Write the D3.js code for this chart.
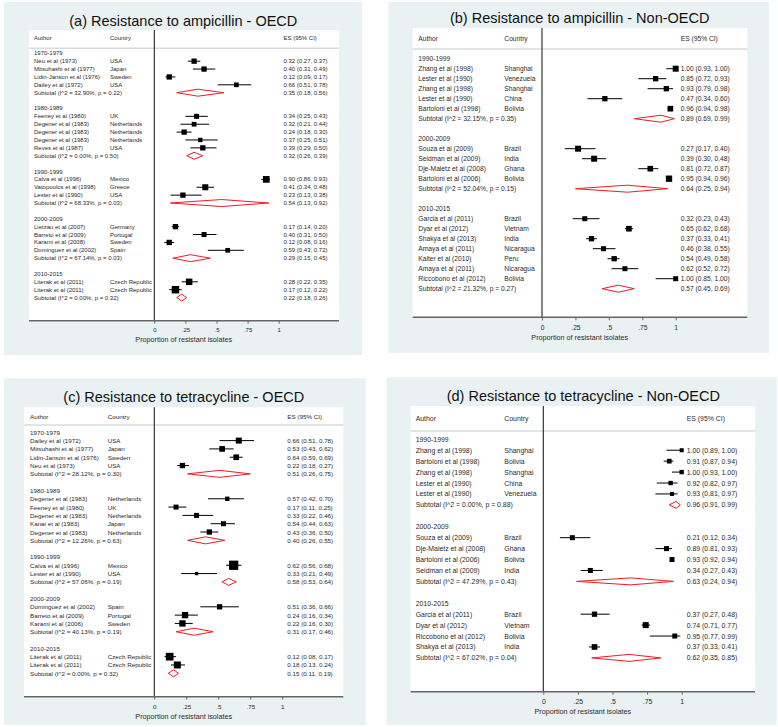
<!DOCTYPE html>
<html><head><meta charset="utf-8">
<script src="https://cdn.jsdelivr.net/npm/d3@7"></script>
<style>
body{margin:0;background:#fff}
svg{display:block}
text{font-family:"Liberation Sans",Arial,Helvetica,sans-serif}
</style>
</head><body>
<svg id="chart" width="778" height="727"></svg>
<script>
// ---------------- DATA ----------------
const xTicks = [0, 0.25, 0.5, 0.75, 1];
const xTickLabels = ["0", ".25", ".5", ".75", "1"];
const axisTitle = "Proportion of resistant isolates";
const headAuthor = "Author", headCountry = "Country", headES = "ES (95% CI)";

// (a) ampicillin OECD
const aTitle = "(a) Resistance to ampicillin - OECD";
const aGroups = ["1970-1979", "1980-1989", "1990-1999", "2000-2009", "2010-2015"];
const aGroupOf = [0,0,0,0, 1,1,1,1,1, 2,2,2, 3,3,3,3, 4,4];
const aAuthors = ["Neu et al (1973)","Mitsuhashi et al (1977)","Lidin-Janson et al (1976)","Dailey et al (1972)",
  "Feeney et al (1980)","Degener et al (1983)","Degener et al (1983)","Degener et al (1983)","Reves et al (1987)",
  "Calva et al (1996)","Vatopoulos et al (1998)","Lester et al (1990)",
  "Lietzau et al (2007)","Barreto et al (2009)","Karami et al (2008)","Dominguez et al (2002)",
  "Literak et al (2011)","Literak et al (2011)"];
const aCountries = ["USA","Japan","Sweden","USA","UK","Netherlands","Netherlands","Netherlands","USA",
  "Mexico","Greece","USA","Germany","Portugal","Sweden","Spain","Czech Republic","Czech Republic"];
const aES = [0.32,0.40,0.12,0.66, 0.34,0.32,0.24,0.37,0.39, 0.90,0.41,0.23, 0.17,0.40,0.12,0.59, 0.28,0.17];
const aLo = [0.27,0.31,0.09,0.51, 0.25,0.21,0.18,0.25,0.29, 0.86,0.34,0.13, 0.14,0.31,0.08,0.43, 0.22,0.12];
const aHi = [0.37,0.49,0.17,0.78, 0.43,0.44,0.30,0.51,0.50, 0.93,0.48,0.38, 0.20,0.50,0.16,0.72, 0.35,0.22];
const aWeight = [28,28,28,22, 25,22,28,19,28, 45,36,28, 28,25,28,22, 42,56];
const aSubES = [0.35,0.32,0.54,0.29,0.22];
const aSubLo = [0.18,0.26,0.13,0.15,0.18];
const aSubHi = [0.56,0.39,0.92,0.45,0.26];
const aSubI2 = ["32.90","0.00","68.33","67.14","0.00"];
const aSubP = ["0.22","0.50","0.03","0.03","0.32"];

// (b) ampicillin Non-OECD
const bTitle = "(b) Resistance to ampicillin - Non-OECD";
const bGroups = ["1990-1999", "2000-2009", "2010-2015"];
const bGroupOf = [0,0,0,0,0, 1,1,1,1, 2,2,2,2,2,2,2];
const bAuthors = ["Zhang et al (1998)","Lester et al (1990)","Zhang et al (1998)","Lester et al (1990)","Bartoloni et al (1998)",
  "Souza et al (2009)","Seidman et al (2009)","Dje-Maletz et al (2008)","Bartoloni et al (2006)",
  "Garcia et al (2011)","Dyar et al (2012)","Shakya et al (2013)","Amaya et al (2011)","Kalter et al (2010)","Amaya et al (2011)","Riccobono et al (2012)"];
const bCountries = ["Shanghai","Venezuela","Shanghai","China","Bolivia","Brazil","India","Ghana","Bolivia",
  "Brazil","Vietnam","India","Nicaragua","Peru","Nicaragua","Bolivia"];
const bES = [1.00,0.85,0.93,0.47,0.96, 0.27,0.39,0.81,0.95, 0.32,0.65,0.37,0.46,0.54,0.62,1.00];
const bLo = [0.93,0.72,0.79,0.34,0.94, 0.17,0.30,0.72,0.94, 0.23,0.62,0.33,0.38,0.49,0.52,0.85];
const bHi = [1.00,0.93,0.98,0.60,0.98, 0.40,0.48,0.87,0.96, 0.43,0.68,0.41,0.55,0.58,0.72,1.00];
const bWeight = [36,28,28,28,32, 36,36,32,40, 25,32,28,25,28,25,25];
const bSubES = [0.89,0.64,0.57];
const bSubLo = [0.69,0.25,0.45];
const bSubHi = [0.99,0.94,0.69];
const bSubI2 = ["32.15","52.04","21.32"];
const bSubP = ["0.35","0.15","0.27"];

// (c) tetracycline OECD
const cTitle = "(c) Resistance to tetracycline - OECD";
const cGroups = ["1970-1979", "1980-1989", "1990-1999", "2000-2009", "2010-2015"];
const cGroupOf = [0,0,0,0, 1,1,1,1,1, 2,2, 3,3,3, 4,4];
const cAuthors = ["Dailey et al (1972)","Mitsuhashi et al (1977)","Lidin-Janson et al (1976)","Neu et al (1973)",
  "Degener et al (1983)","Feeney et al (1980)","Degener et al (1983)","Kanai et al (1983)","Degener et al (1983)",
  "Calva et al (1996)","Lester et al (1990)",
  "Dominguez et al (2002)","Barreto et al (2009)","Karami et al (2006)",
  "Literak et al (2011)","Literak et al (2011)"];
const cCountries = ["USA","Japan","Sweden","USA","Netherlands","UK","Netherlands","Japan","Netherlands",
  "Mexico","USA","Spain","Portugal","Sweden","Czech Republic","Czech Republic"];
const cES = [0.66,0.53,0.64,0.22, 0.57,0.17,0.33,0.54,0.43, 0.62,0.33, 0.51,0.24,0.22, 0.12,0.18];
const cLo = [0.51,0.43,0.59,0.18, 0.42,0.11,0.22,0.44,0.36, 0.56,0.21, 0.36,0.16,0.16, 0.08,0.13];
const cHi = [0.78,0.62,0.69,0.27, 0.70,0.25,0.46,0.63,0.50, 0.68,0.49, 0.66,0.34,0.30, 0.17,0.24];
const cWeight = [36,32,32,28, 19,25,25,25,28, 86,11, 28,40,40, 59,49];
const cSubES = [0.51,0.40,0.58,0.31,0.15];
const cSubLo = [0.26,0.26,0.53,0.17,0.11];
const cSubHi = [0.75,0.55,0.64,0.46,0.19];
const cSubI2 = ["28.12","12.26","57.06","40.13","0.00"];
const cSubP = ["0.30","0.63","0.19","0.19","0.32"];

// (d) tetracycline Non-OECD
const dTitle = "(d) Resistance to tetracycline - Non-OECD";
const dGroups = ["1990-1999", "2000-2009", "2010-2015"];
const dGroupOf = [0,0,0,0,0, 1,1,1,1, 2,2,2,2];
const dAuthors = ["Zhang et al (1998)","Bartoloni et al (1998)","Zhang et al (1998)","Lester et al (1990)","Lester et al (1990)",
  "Souza et al (2009)","Dje-Maletz et al (2008)","Bartoloni et al (2006)","Seidman et al (2009)",
  "Garcia et al (2011)","Dyar et al (2012)","Riccobono et al (2012)","Shakya et al (2013)"];
const dCountries = ["Shanghai","Bolivia","Shanghai","China","Venezuela","Brazil","Ghana","Bolivia","India",
  "Brazil","Vietnam","Bolivia","India"];
const dES = [1.00,0.91,1.00,0.92,0.93, 0.21,0.89,0.93,0.34, 0.37,0.74,0.95,0.37];
const dLo = [0.89,0.87,0.93,0.82,0.81, 0.12,0.81,0.92,0.27, 0.27,0.71,0.77,0.33];
const dHi = [1.00,0.94,1.00,0.97,0.97, 0.34,0.93,0.94,0.43, 0.48,0.77,0.99,0.41];
const dWeight = [16,22,19,19,16, 25,25,25,25, 28,36,25,32];
const dSubES = [0.96,0.63,0.62];
const dSubLo = [0.91,0.24,0.35];
const dSubHi = [0.99,0.94,0.85];
const dSubI2 = ["0.00","47.29","67.02"];
const dSubP = ["0.88","0.43","0.04"];

// ---------------- LAYOUT ----------------
const panels = [
  { d:{title:aTitle,groups:aGroups,groupOf:aGroupOf,authors:aAuthors,countries:aCountries,es:aES,lo:aLo,hi:aHi,w:aWeight,sEs:aSubES,sLo:aSubLo,sHi:aSubHi,sI2:aSubI2,sP:aSubP},
    L:{bg:[4,2,362,355], titleX:183.3, titleY:26, plot:[29,30,339,320.7], x0:154.3, x1:278.7,
       row0:53.3, rowStep:7.88, authX:34, ctryX:110, esX:283.5, headY:38.3, sepY:48.3, fs:6, axTitleX:183.7, axTitleY:339.5}},
  { d:{title:bTitle,groups:bGroups,groupOf:bGroupOf,authors:bAuthors,countries:bCountries,es:bES,lo:bLo,hi:bHi,w:bWeight,sEs:bSubES,sLo:bSubLo,sHi:bSubHi,sI2:bSubI2,sP:bSubP},
    L:{bg:[388.3,2,769,353], titleX:579.7, titleY:23, plot:[412.7,28,747.3,317.3], x0:542, x1:675.7,
       row0:58.7, rowStep:10, authX:418.3, ctryX:504.3, esX:680.7, headY:38.3, sepY:49, fs:6.7, axTitleX:579.7, axTitleY:337.5}},
  { d:{title:cTitle,groups:cGroups,groupOf:cGroupOf,authors:cAuthors,countries:cCountries,es:cES,lo:cLo,hi:cHi,w:cWeight,sEs:cSubES,sLo:cSubLo,sHi:cSubHi,sI2:cSubI2,sP:cSubP},
    L:{bg:[4,378.3,365.7,725], titleX:183.8, titleY:401.7, plot:[24,407.3,343.3,696.7], x0:154.3, x1:282.3,
       row0:432.3, rowStep:8.31, authX:30, ctryX:107.7, esX:287.3, headY:416, sepY:425, fs:6.25, axTitleX:183.7, axTitleY:716.5}},
  { d:{title:dTitle,groups:dGroups,groupOf:dGroupOf,authors:dAuthors,countries:dCountries,es:dES,lo:dLo,hi:dHi,w:dWeight,sEs:dSubES,sLo:dSubLo,sHi:dSubHi,sI2:dSubI2,sP:dSubP},
    L:{bg:[386.7,377.3,776.7,725], titleX:583.3, titleY:400.7, plot:[410.7,406,755,691.7], x0:543.3, x1:681.7,
       row0:439.3, rowStep:10.93, authX:415.7, ctryX:504.3, esX:686.7, headY:418.3, sepY:431, fs:6.9, axTitleX:582.8, axTitleY:711.2}}
];

const svg = d3.select("#chart");
const f2 = d3.format(".2f");
const sizeScale = d3.scaleSqrt().domain([0, 100]).range([0, 10]);
const TXT = "#2a2a2a";

function drawPanel(P, L) {
  const g = svg.append("g");
  g.append("rect").attr("x", L.bg[0]).attr("y", L.bg[1]).attr("width", L.bg[2]-L.bg[0]).attr("height", L.bg[3]-L.bg[1])
    .attr("fill", "#e9f1f3");
  g.append("text").attr("x", L.titleX).attr("y", L.titleY).attr("text-anchor", "middle")
    .attr("font-size", 14.5).attr("fill", "#111").text(P.title);
  const [px0, py0, px1, py1] = L.plot;
  g.append("rect").attr("x", px0).attr("y", py0).attr("width", px1-px0).attr("height", py1-py0).attr("fill", "#fff");

  // header
  const hd = g.append("g").attr("font-size", L.fs).attr("fill", TXT).attr("dominant-baseline", "central");
  hd.append("text").attr("x", L.authX).attr("y", L.headY).text(headAuthor);
  hd.append("text").attr("x", L.ctryX).attr("y", L.headY).text(headCountry);
  hd.append("text").attr("x", L.esX).attr("y", L.headY).text(headES);
  g.append("line").attr("x1", px0).attr("x2", px1).attr("y1", L.sepY).attr("y2", L.sepY)
    .attr("stroke", "#d8dcdc").attr("stroke-width", 1.5);

  // rows
  const rows = [];
  P.groups.forEach((gname, gi) => {
    rows.push({type: "group", label: gname});
    P.authors.forEach((a, i) => {
      if (P.groupOf[i] === gi) rows.push({type: "study", author: a, country: P.countries[i], es: P.es[i], lo: P.lo[i], hi: P.hi[i], w: P.w[i]});
    });
    rows.push({type: "sub", label: `Subtotal  (I^2 = ${P.sI2[gi]}%, p = ${P.sP[gi]})`, es: P.sEs[gi], lo: P.sLo[gi], hi: P.sHi[gi]});
    if (gi < P.groups.length - 1) rows.push({type: "blank"});
  });
  rows.forEach((r, i) => r.idx = i);
  const y = d3.scaleLinear().domain([0, 1]).range([L.row0, L.row0 + L.rowStep]);
  const x = d3.scaleLinear().domain([0, 1]).range([L.x0, L.x1]);

  // zero line
  g.append("line").attr("x1", x(0)).attr("x2", x(0)).attr("y1", py0).attr("y2", py1)
    .attr("stroke", "#222").attr("stroke-width", 1.1);

  const tg = g.append("g").attr("font-size", L.fs).attr("fill", TXT).attr("dominant-baseline", "central");
  rows.filter(r => r.type === "group").forEach(r => tg.append("text").attr("x", L.authX).attr("y", y(r.idx)).text(r.label));
  rows.filter(r => r.type === "sub").forEach(r => {
    tg.append("text").attr("x", L.authX).attr("y", y(r.idx)).text(r.label);
    tg.append("text").attr("x", L.esX).attr("y", y(r.idx)).text(`${f2(r.es)} (${f2(r.lo)}, ${f2(r.hi)})`);
  });
  const studies = rows.filter(r => r.type === "study");
  studies.forEach(r => {
    tg.append("text").attr("x", L.authX).attr("y", y(r.idx)).text(r.author);
    tg.append("text").attr("x", L.ctryX).attr("y", y(r.idx)).text(r.country);
    tg.append("text").attr("x", L.esX).attr("y", y(r.idx)).text(`${f2(r.es)} (${f2(r.lo)}, ${f2(r.hi)})`);
  });

  // CI lines and squares
  g.append("g").selectAll("line").data(studies).join("line")
    .attr("x1", d => x(d.lo)).attr("x2", d => x(d.hi)).attr("y1", d => y(d.idx)).attr("y2", d => y(d.idx))
    .attr("stroke", "#000").attr("stroke-width", 1);
  g.append("g").selectAll("rect").data(studies).join("rect")
    .attr("x", d => x(d.es) - sizeScale(d.w)/2).attr("y", d => y(d.idx) - sizeScale(d.w)/2)
    .attr("width", d => sizeScale(d.w)).attr("height", d => sizeScale(d.w)).attr("fill", "#000");

  // diamonds
  const subs = rows.filter(r => r.type === "sub");
  const hh = 3.5;
  g.append("g").selectAll("path").data(subs).join("path")
    .attr("d", d => `M${x(d.lo)},${y(d.idx)} L${x(d.es)},${y(d.idx)-hh} L${x(d.hi)},${y(d.idx)} L${x(d.es)},${y(d.idx)+hh} Z`)
    .attr("fill", "none").attr("stroke", "#ee1c24").attr("stroke-width", 1);

  // axis
  g.append("line").attr("x1", px0).attr("x2", px1).attr("y1", py1).attr("y2", py1)
    .attr("stroke", "#666").attr("stroke-width", 1.4);
  const ax = d3.axisBottom(x).tickValues(xTicks).tickFormat((d, i) => xTickLabels[i]).tickSize(3).tickPadding(4.5);
  const axg = g.append("g").attr("transform", `translate(0,${py1})`).call(ax);
  axg.select(".domain").remove();
  axg.selectAll(".tick line").attr("stroke", "#666");
  axg.selectAll(".tick text").attr("font-size", L.fs).attr("fill", TXT).attr("font-family", null);
  g.append("text").attr("x", L.axTitleX).attr("y", L.axTitleY).attr("text-anchor", "middle")
    .attr("dominant-baseline", "central").attr("font-size", 7.2).attr("fill", TXT).text(axisTitle);
}

panels.forEach(p => drawPanel(p.d, p.L));
</script>
</body></html>
